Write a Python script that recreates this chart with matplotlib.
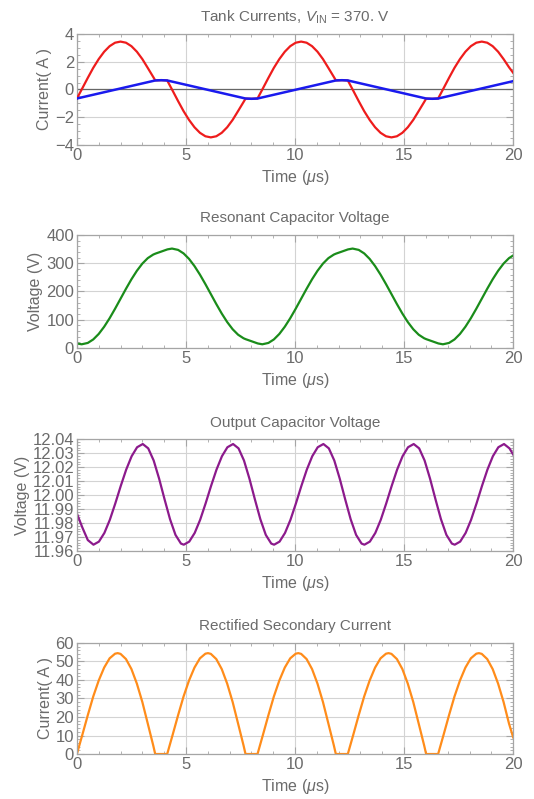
import numpy as np
import matplotlib
matplotlib.use("Agg")
import matplotlib.pyplot as plt
from matplotlib.ticker import MultipleLocator, FormatStrFormatter

plt.rcParams['font.family'] = ['Liberation Sans', 'DejaVu Sans']
plt.rcParams['mathtext.fontset'] = 'custom'
plt.rcParams['mathtext.rm'] = 'Liberation Sans'
plt.rcParams['mathtext.it'] = 'Liberation Sans:italic'

# ---- panel 1: tank currents (A)
t_res = [0, 0.25, 0.5, 0.75, 1.0, 1.25, 1.5, 1.75, 2.0, 2.25, 2.5, 2.75, 3.0, 3.25, 3.5, 3.59, 3.87,
         4.14, 4.39, 4.64, 4.89, 5.14, 5.39, 5.64, 5.89, 6.14, 6.39, 6.64, 6.89, 7.14, 7.39, 7.64, 7.73, 8.01,
         8.28, 8.53, 8.78, 9.03, 9.28, 9.53, 9.78, 10.03, 10.28, 10.53, 10.78, 11.03, 11.28, 11.53, 11.78, 11.87, 12.15,
         12.42, 12.67, 12.92, 13.17, 13.42, 13.67, 13.92, 14.17, 14.42, 14.67, 14.92, 15.17, 15.42, 15.67, 15.92, 16.01, 16.29,
         16.56, 16.81, 17.06, 17.31, 17.56, 17.81, 18.06, 18.31, 18.56, 18.81, 19.06, 19.31, 19.56, 19.81, 20.0]
i_res = [-0.65, 0.09, 0.84, 1.56, 2.19, 2.72, 3.12, 3.37, 3.45, 3.37, 3.12, 2.72, 2.19, 1.55, 0.9, 0.66, 0.67,
         0.65, -0.09, -0.84, -1.56, -2.19, -2.72, -3.12, -3.37, -3.45, -3.37, -3.12, -2.72, -2.19, -1.55, -0.9, -0.66, -0.67,
         -0.65, 0.09, 0.84, 1.56, 2.19, 2.72, 3.12, 3.37, 3.45, 3.37, 3.12, 2.72, 2.19, 1.55, 0.9, 0.66, 0.67,
         0.65, -0.09, -0.84, -1.56, -2.19, -2.72, -3.12, -3.37, -3.45, -3.37, -3.12, -2.72, -2.19, -1.55, -0.9, -0.66, -0.67,
         -0.65, 0.09, 0.84, 1.56, 2.19, 2.72, 3.12, 3.37, 3.45, 3.37, 3.12, 2.72, 2.19, 1.6, 1.2]
t_mag = [0, 3.59, 3.87, 4.14, 7.73, 8.01, 8.28, 11.87, 12.15, 12.42, 16.01, 16.29, 16.56, 20.0]
i_mag = [-0.65, 0.65, 0.67, 0.65, -0.65, -0.67, -0.65, 0.65, 0.67, 0.65, -0.65, -0.67, -0.65, 0.60]

# ---- panel 2: resonant capacitor voltage (V)
t_cr = [0, 0.22, 0.5, 0.75, 1.0, 1.25, 1.5, 1.75, 2.0, 2.25, 2.5, 2.75, 3.0, 3.25, 3.5, 3.6, 3.88, 4.15,
        4.36, 4.64, 4.89, 5.14, 5.39, 5.64, 5.89, 6.14, 6.39, 6.64, 6.89, 7.14, 7.39, 7.64, 7.74, 8.02, 8.29,
        8.50, 8.78, 9.03, 9.28, 9.53, 9.78, 10.03, 10.28, 10.53, 10.78, 11.03, 11.28, 11.53, 11.78, 11.88, 12.16, 12.43,
        12.64, 12.92, 13.17, 13.42, 13.67, 13.92, 14.17, 14.42, 14.67, 14.92, 15.17, 15.42, 15.67, 15.92, 16.02, 16.30, 16.57,
        16.78, 17.06, 17.31, 17.56, 17.81, 18.06, 18.31, 18.56, 18.81, 19.06, 19.31, 19.56, 19.81, 20.0]
v_cr = [15.8, 13.0, 17.8, 30.2, 49.6, 75.1, 105.3, 138.9, 174.2, 209.5, 243.1, 273.3, 298.7, 318.1, 330.7, 334.0, 341.6, 349.0,
        351.9, 347.2, 334.8, 315.4, 289.9, 259.7, 226.1, 190.8, 155.5, 121.9, 91.7, 66.3, 46.9, 34.3, 31.0, 23.4, 16.0,
        13.0, 17.8, 30.2, 49.6, 75.1, 105.3, 138.9, 174.2, 209.5, 243.1, 273.3, 298.7, 318.1, 330.7, 334.0, 341.6, 349.0,
        351.9, 347.2, 334.8, 315.4, 289.9, 259.7, 226.1, 190.8, 155.5, 121.9, 91.7, 66.3, 46.9, 34.3, 31.0, 23.4, 16.0,
        13.0, 17.8, 30.2, 49.6, 75.1, 105.3, 138.9, 174.2, 209.5, 243.1, 273.3, 298.7, 318.1, 327.5]

# ---- panel 3: output capacitor voltage (V)
t_co = [0, 0.25, 0.5, 0.76, 1.01, 1.26, 1.51, 1.76, 2.01, 2.26, 2.51, 2.76, 3.02, 3.27, 3.52, 3.77, 4.02, 4.27, 4.52, 4.77,
        4.90, 5.15, 5.40, 5.65, 5.90, 6.15, 6.40, 6.65, 6.90, 7.16, 7.41, 7.66, 7.91, 8.16, 8.41, 8.66, 8.91,
        9.04, 9.29, 9.54, 9.79, 10.04, 10.29, 10.54, 10.79, 11.04, 11.30, 11.55, 11.80, 12.05, 12.30, 12.55, 12.80, 13.05,
        13.18, 13.43, 13.68, 13.93, 14.18, 14.43, 14.68, 14.93, 15.18, 15.44, 15.69, 15.94, 16.19, 16.44, 16.69, 16.94, 17.19,
        17.32, 17.57, 17.82, 18.07, 18.32, 18.57, 18.82, 19.07, 19.32, 19.58, 19.83, 20.0]
v_co = [11.9868, 11.9768, 11.9678, 11.9645, 11.9667, 11.9729, 11.9823, 11.9940, 12.0065, 12.0182, 12.0278, 12.0342,
        12.0365, 12.0334, 12.0247, 12.0117, 11.9969, 11.9827, 11.9715, 11.9653,
        11.9645, 11.9667, 11.9729, 11.9823, 11.9940, 12.0065, 12.0182, 12.0278, 12.0342,
        12.0365, 12.0334, 12.0247, 12.0117, 11.9969, 11.9827, 11.9715, 11.9653,
        11.9645, 11.9667, 11.9729, 11.9823, 11.9940, 12.0065, 12.0182, 12.0278, 12.0342,
        12.0365, 12.0334, 12.0247, 12.0117, 11.9969, 11.9827, 11.9715, 11.9653,
        11.9645, 11.9667, 11.9729, 11.9823, 11.9940, 12.0065, 12.0182, 12.0278, 12.0342,
        12.0365, 12.0334, 12.0247, 12.0117, 11.9969, 11.9827, 11.9715, 11.9653,
        11.9645, 11.9667, 11.9729, 11.9823, 11.9940, 12.0065, 12.0182, 12.0278, 12.0342,
        12.0365, 12.0334, 12.029]

# ---- panel 4: rectified secondary current (A)
t_sec = [0, 0.25, 0.5, 0.75, 1.0, 1.25, 1.5, 1.75, 1.87, 2.0, 2.25, 2.5, 2.75, 3.0, 3.25, 3.5, 3.59,
         4.14, 4.39, 4.64, 4.89, 5.14, 5.39, 5.64, 5.89, 6.01, 6.14, 6.39, 6.64, 6.89, 7.14, 7.39, 7.64, 7.73,
         8.28, 8.53, 8.78, 9.03, 9.28, 9.53, 9.78, 10.03, 10.15, 10.28, 10.53, 10.78, 11.03, 11.28, 11.53, 11.78, 11.87,
         12.42, 12.67, 12.92, 13.17, 13.42, 13.67, 13.92, 14.17, 14.29, 14.42, 14.67, 14.92, 15.17, 15.42, 15.67, 15.92, 16.01,
         16.56, 16.81, 17.06, 17.31, 17.56, 17.81, 18.06, 18.31, 18.43, 18.56, 18.81, 19.06, 19.31, 19.56, 19.81, 20.0]
i_sec = [0, 10.4, 21.0, 31.1, 39.7, 46.7, 51.7, 54.2, 54.5, 54.1, 51.3, 45.9, 38.0, 28.1, 16.4, 4.6, 0,
         0, 10.4, 21.0, 31.1, 39.7, 46.7, 51.7, 54.2, 54.5, 54.1, 51.3, 45.9, 38.0, 28.1, 16.4, 4.6, 0,
         0, 10.4, 21.0, 31.1, 39.7, 46.7, 51.7, 54.2, 54.5, 54.1, 51.3, 45.9, 38.0, 28.1, 16.4, 4.6, 0,
         0, 10.4, 21.0, 31.1, 39.7, 46.7, 51.7, 54.2, 54.5, 54.1, 51.3, 45.9, 38.0, 28.1, 16.4, 4.6, 0,
         0, 10.4, 21.0, 31.1, 39.7, 46.7, 51.7, 54.2, 54.5, 54.1, 51.3, 45.9, 38.0, 28.1, 16.4, 9.0]

txt = '#6b6b6b'
frame = '#a5a5a5'
gridc = '#d3d3d3'

def style(ax, ymin, ymax, ymaj, ymin_step, title, ylabel, fmt=None):
    ax.set_xlim(0, 20)
    ax.set_ylim(ymin, ymax)
    ax.xaxis.set_major_locator(MultipleLocator(5))
    ax.xaxis.set_minor_locator(MultipleLocator(1))
    ax.yaxis.set_major_locator(MultipleLocator(ymaj))
    ax.yaxis.set_minor_locator(MultipleLocator(ymin_step))
    if fmt:
        ax.yaxis.set_major_formatter(FormatStrFormatter(fmt))
    ax.tick_params(which='both', direction='in', top=True, right=True, colors=frame,
                   labelcolor=txt, labelsize=12, pad=2)
    ax.tick_params(which='major', length=5, width=0.8)
    ax.tick_params(which='minor', length=2.5, width=0.6)
    for s in ax.spines.values():
        s.set_color(frame)
        s.set_linewidth(0.9)
    ax.grid(True, which='major', color=gridc, lw=0.8)
    ax.set_axisbelow(True)
    ax.set_title(title, color=txt, fontsize=11, pad=9)
    ax.set_ylabel(ylabel, color=txt, fontsize=11.5, labelpad=2)
    ax.set_xlabel(r'Time ($\mu$s)', color=txt, fontsize=11.5, labelpad=4)

fig = plt.figure(figsize=(5.34, 7.99), dpi=100)
L, W = 0.144, 0.817

ax1 = fig.add_axes([L, 0.8185, W, 0.139])
ax1.axhline(0, color='#666666', lw=0.9, zorder=1)
ax1.plot(t_res, i_res, color='#ee1c1c', lw=1.6, zorder=3)
ax1.plot(t_mag, i_mag, color='#1a1aee', lw=1.8, zorder=4)
style(ax1, -4, 4, 2, 0.5, r'Tank Currents, $V_{\mathrm{IN}}$ = 370. V', 'Current( A )')

ax2 = fig.add_axes([L, 0.5645, W, 0.1414])
ax2.plot(t_cr, v_cr, color='#1a8c1a', lw=1.6)
style(ax2, 0, 400, 100, 20, 'Resonant Capacitor Voltage', 'Voltage (V)')

ax3 = fig.add_axes([L, 0.3104, W, 0.140])
ax3.plot(t_co, v_co, color='#8c1a8c', lw=1.6)
style(ax3, 11.96, 12.04, 0.01, 0.002, 'Output Capacitor Voltage', 'Voltage (V)', '%.2f')

ax4 = fig.add_axes([L, 0.0563, W, 0.139])
ax4.plot(t_sec, i_sec, color='#ff8c1a', lw=1.6)
style(ax4, 0, 60, 10, 2, 'Rectified Secondary Current', 'Current( A )')

fig.savefig('out.png', dpi=100)
